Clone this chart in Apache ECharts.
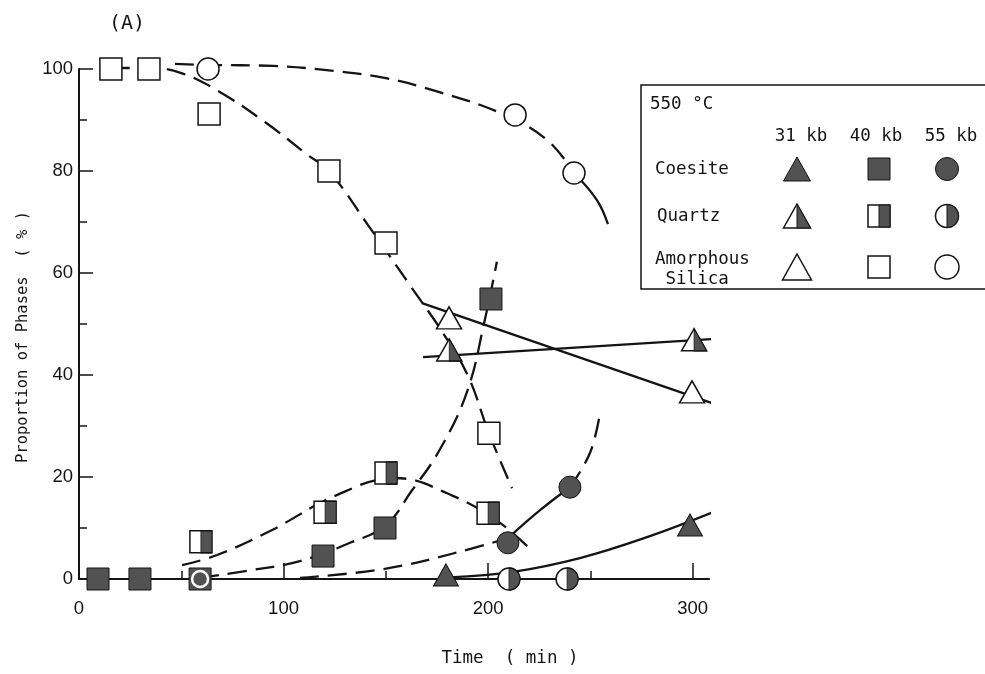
<!DOCTYPE html>
<html>
<head>
<meta charset="utf-8">
<script src="https://cdn.jsdelivr.net/npm/echarts@6/dist/echarts.min.js"></script>
<style>
  html, body { margin: 0; padding: 0; background: #fff; }
  #chart { width: 985px; height: 674px; }
</style>
</head>
<body>
<div id="chart"></div>
<script>
// Measured points: [time (min), proportion (%)]
const coesite31   = [[179.4, 0.8], [298.7, 10.6]];
const quartz31    = [[181.0, 44.9], [300.7, 46.9]];
const amorphous31 = [[180.9, 51.2], [299.7, 36.7]];

const coesite40   = [[9.3, 0], [29.8, 0], [59.2, 0], [119.3, 4.5], [149.6, 10.0], [201.4, 54.9]];
const quartz40    = [[59.6, 7.3], [120.3, 13.1], [150.1, 20.8], [200.0, 12.9]];
const amorphous40 = [[15.6, 100], [34.2, 100], [63.6, 91.2], [122.2, 80.0], [150.1, 65.9], [200.4, 28.6]];

const coesite55   = [[59.2, 0], [209.7, 7.1], [240.0, 18.0]];
const quartz55    = [[210.2, 0], [238.6, 0]];
const amorphous55 = [[63.1, 100], [213.2, 91.0], [242.0, 79.6]];

// Hand-drawn trend curves through the measurements
const trendAmorphous55 = [[46.9, 101.0], [63.1, 100.8], [95.0, 100.6], [125.0, 99.6], [150.0, 98.2],
  [175.0, 95.6], [205.8, 91.4], [228.8, 86.1], [242.0, 79.6]];
const tailAmorphous55 = [[242.0, 79.6], [253.2, 74.3], [258.6, 69.6]];
const trendAmorphous40 = [[15.6, 100.2], [34.2, 100.2], [50.0, 99.2], [68.0, 95.7], [90.9, 89.6],
  [112.0, 83.1], [122.2, 80.0], [141.3, 69.4], [161.8, 57.6], [178.0, 48.2], [190.2, 39.8],
  [200.4, 28.6], [211.7, 17.8]];
const trendCoesite40 = [[59.2, 0.2], [85.0, 1.8], [108.0, 3.5], [132.5, 7.1], [150.0, 10.5],
  [162.3, 17.1], [176.0, 25.1], [189.7, 36.7], [198.5, 51.0], [204.3, 62.2]];
const trendQuartz40 = [[50.4, 2.7], [67.5, 4.7], [93.4, 9.4], [125.2, 16.3], [154.5, 19.8],
  [182.8, 16.3], [205.8, 11.0], [222.0, 5.3]];
const trendCoesite55Early = [[108.0, 0.2], [149.6, 2.0], [183.8, 5.1], [209.7, 8.0]];
const trendCoesite55Mid = [[209.7, 8.0], [225.4, 13.5], [240.0, 18.0]];
const trendCoesite55Late = [[240.0, 18.0], [249.8, 24.7], [254.7, 32.5]];
const trendCoesite31 = [[181.0, 0.3], [212.2, 1.4], [244.9, 4.1], [277.7, 8.2], [310.0, 13.1]];
const trendQuartz31 = [[168.2, 43.5], [311.9, 47.1]];
const trendAmorphous31 = [[167.7, 54.1], [310.9, 34.3]];

// Axis ticks and labels
const xLabelValues = [0, 100, 200, 300];
const xMajorTicks = [100, 200, 300];
const xMinorTicks = [50, 150, 250];

// Legend table text
const legendTitle = '550 °C';
const pressures = ['31 kb', '40 kb', '55 kb'];
const phases = ['Coesite', 'Quartz', 'Amorphous\n Silica'];

const INK = '#141414';
const FILL = '#525252';
const MONO = '"DejaVu Sans Mono", "Liberation Mono", monospace';
const SANS = '"Liberation Sans", Arial, sans-serif';

const TRI = [25, 22];
const SQ = 22;
const CIR = 22;

const HALF_TRI = 'path://M0,0 L1,1 L0,1 Z';
const HALF_CIR = 'path://M0,0 A1,1 0 0 1 0,2 Z';

function curve(data, dashed) {
  return {
    type: 'line', data, smooth: 0.4, showSymbol: false, symbol: 'none',
    clip: false, silent: true, z: 2,
    lineStyle: { color: INK, width: 2.3, type: dashed ? [19, 9] : 'solid', cap: 'butt' }
  };
}

function marker(data, symbol, size, filled, extra) {
  return Object.assign({
    type: 'scatter', data, symbol, symbolSize: size, z: 5, silent: true,
    itemStyle: { color: filled ? FILL : '#fff', borderColor: INK, borderWidth: filled ? 1 : 1.5, opacity: 1 }
  }, extra || {});
}

// Half-filled quartz symbols: white outline shape plus shaded right half
function halfMarker(data, kind) {
  let full, half, halfSize, offset;
  if (kind === 'triangle') {
    full = marker(data, 'triangle', TRI, false);
    half = HALF_TRI; halfSize = [TRI[0] / 2, TRI[1]]; offset = [TRI[0] / 4, 0];
  } else if (kind === 'rect') {
    full = marker(data, 'rect', SQ, false);
    half = 'rect'; halfSize = [SQ / 2, SQ]; offset = [SQ / 4, 0];
  } else {
    full = marker(data, 'circle', CIR, false);
    half = HALF_CIR; halfSize = [CIR / 2, CIR]; offset = [CIR / 4, 0];
  }
  const shade = marker(data, half, halfSize, true, { symbolOffset: offset, z: 6 });
  return [full, shade];
}

const series = [
  curve(trendAmorphous55, true),
  curve(tailAmorphous55, false),
  curve(trendAmorphous40, true),
  curve(trendCoesite40, true),
  curve(trendQuartz40, true),
  curve(trendCoesite55Early, true),
  curve(trendCoesite55Mid, false),
  curve(trendCoesite55Late, true),
  curve(trendCoesite31, false),
  curve(trendQuartz31, false),
  curve(trendAmorphous31, false),

  marker(coesite40, 'rect', SQ, true),
  marker(amorphous40, 'rect', SQ, false),
  ...halfMarker(quartz40, 'rect'),
  marker(coesite31, 'triangle', TRI, true),
  marker(amorphous31, 'triangle', TRI, false),
  ...halfMarker(quartz31, 'triangle'),
  marker(coesite55.map((p, i) => i === 0
    ? { value: p, symbolSize: 16, itemStyle: { borderColor: '#fff', borderWidth: 2.5 } }
    : p), 'circle', CIR, true, { z: 7 }),
  marker(amorphous55, 'circle', CIR, false),
  ...halfMarker(quartz55, 'circle')
];

// Legend table drawn as graphic elements
const colX = [797, 879, 947];
const rowY = [169, 216, 267];
const legend = [
  { type: 'rect', shape: { x: 641, y: 85, width: 400, height: 204 },
    style: { fill: '#fff', stroke: INK, lineWidth: 1.5 }, z: 10 },
  { type: 'text', x: 650, y: 104, style: { text: legendTitle, font: '17.5px ' + MONO, fill: INK, verticalAlign: 'middle' }, z: 11 }
];
pressures.forEach((p, i) => legend.push({
  type: 'text', x: colX[i] + (i === 0 ? 4 : i === 2 ? 4 : -3), y: 136,
  style: { text: p, font: '17.5px ' + MONO, fill: INK, align: 'center', verticalAlign: 'middle' }, z: 11
}));
legend.push({ type: 'text', x: 655, y: 169, style: { text: phases[0], font: '17.5px ' + MONO, fill: INK, verticalAlign: 'middle' }, z: 11 });
legend.push({ type: 'text', x: 657, y: 216, style: { text: phases[1], font: '17.5px ' + MONO, fill: INK, verticalAlign: 'middle' }, z: 11 });
legend.push({ type: 'text', x: 655, y: 269, style: { text: phases[2], font: '17.5px ' + MONO, fill: INK, verticalAlign: 'middle', lineHeight: 20 }, z: 11 });

const solid = { fill: FILL, stroke: INK, lineWidth: 1 };
const open = { fill: '#fff', stroke: INK, lineWidth: 1.5 };
function tri(cx, cy, w, h, style) {
  return { type: 'polygon', shape: { points: [[cx, cy - h / 2], [cx + w / 2, cy + h / 2], [cx - w / 2, cy + h / 2]] }, style, z: 11 };
}
function halfTri(cx, cy, w, h) {
  return { type: 'polygon', shape: { points: [[cx, cy - h / 2], [cx + w / 2, cy + h / 2], [cx, cy + h / 2]] }, style: solid, z: 12 };
}
function sq(cx, cy, s, style) {
  return { type: 'rect', shape: { x: cx - s / 2, y: cy - s / 2, width: s, height: s }, style, z: 11 };
}
function halfSq(cx, cy, s) {
  return { type: 'rect', shape: { x: cx, y: cy - s / 2, width: s / 2, height: s }, style: solid, z: 12 };
}
function cir(cx, cy, r, style) {
  return { type: 'circle', shape: { cx, cy, r }, style, z: 11 };
}
function halfCir(cx, cy, r) {
  return { type: 'sector', shape: { cx, cy, r, r0: 0, startAngle: -Math.PI / 2, endAngle: Math.PI / 2, clockwise: true }, style: solid, z: 12 };
}
legend.push(
  tri(colX[0], rowY[0], 27, 24, solid), sq(colX[1], rowY[0], 22, solid), cir(colX[2], rowY[0], 11.5, solid),
  tri(colX[0], rowY[1], 27, 24, open), halfTri(colX[0], rowY[1], 27, 24),
  sq(colX[1], rowY[1], 22, open), halfSq(colX[1], rowY[1], 22),
  cir(colX[2], rowY[1], 11.5, open), halfCir(colX[2], rowY[1], 11.5),
  tri(colX[0], rowY[2], 29, 26, open), sq(colX[1], rowY[2], 22, open), cir(colX[2], rowY[2], 12, open)
);

const chart = echarts.init(document.getElementById('chart'), null, { renderer: 'canvas' });
chart.setOption({
  animation: false,
  backgroundColor: '#fff',
  title: {
    text: '(A)', left: 104, top: 9,
    textStyle: { fontFamily: MONO, fontSize: 20, fontWeight: 'normal', color: INK }
  },
  grid: { left: 79, top: 69, width: 630, height: 510, containLabel: false },
  xAxis: [{
    type: 'value', min: 0, max: 308, interval: 50, position: 'bottom',
    name: 'Time  ( min )', nameLocation: 'middle', nameGap: 70,
    nameTextStyle: { fontFamily: MONO, fontSize: 17.5, color: INK, padding: [0, 0, 0, 232] },
    axisLine: { onZero: false, lineStyle: { color: INK, width: 2 } },
    axisTick: { inside: true, length: 8, customValues: xMinorTicks, lineStyle: { color: INK, width: 1.5 } },
    axisLabel: { customValues: xLabelValues, margin: 20, fontFamily: SANS, fontSize: 18.5, color: INK },
    splitLine: { show: false }
  }, {
    type: 'value', min: 0, max: 308, position: 'bottom',
    axisLine: { show: false, onZero: false },
    axisTick: { inside: true, length: 16, customValues: xMajorTicks, lineStyle: { color: INK, width: 1.5 } },
    axisLabel: { show: false },
    splitLine: { show: false }
  }],
  yAxis: {
    type: 'value', min: 0, max: 100, interval: 20,
    name: 'Proportion of Phases  ( % )', nameLocation: 'middle', nameGap: 48,
    nameTextStyle: { fontFamily: MONO, fontSize: 15.5, color: INK, padding: [0, 26, 0, 0] },
    axisLine: { onZero: false, lineStyle: { color: INK, width: 2 } },
    axisTick: { inside: true, length: 14, lineStyle: { color: INK, width: 1.5 } },
    minorTick: { show: true, splitNumber: 2, length: 8, lineStyle: { color: INK, width: 1.5 } },
    axisLabel: { margin: 6, fontFamily: SANS, fontSize: 18.5, color: INK },
    splitLine: { show: false },
    minorSplitLine: { show: false }
  },
  series,
  graphic: legend
});
</script>
</body>
</html>
